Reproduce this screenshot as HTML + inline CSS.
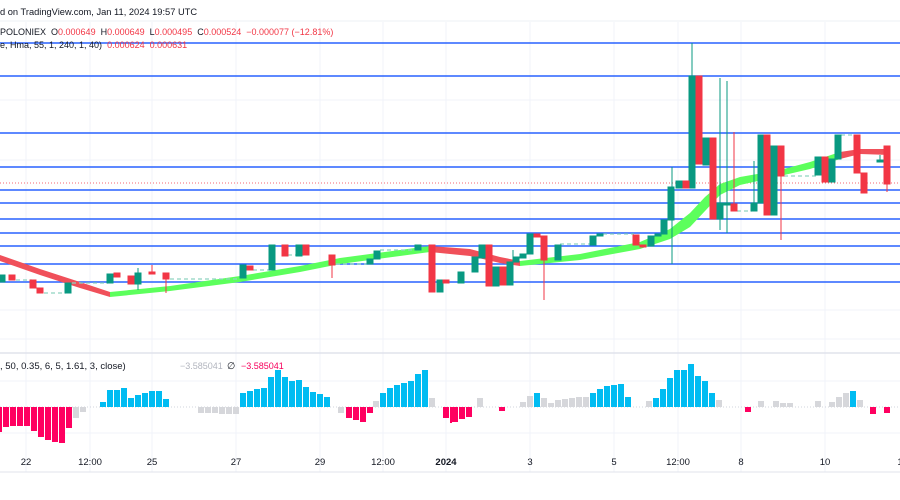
<!DOCTYPE html>
<html><head><meta charset="utf-8"><style>
body{margin:0;background:#fff;width:900px;height:500px;overflow:hidden}
svg{display:block}
text{font-family:"Liberation Sans",sans-serif}
</style></head><body>
<svg width="900" height="500" viewBox="0 0 900 500">
<rect width="900" height="500" fill="#fff"/>
<g stroke="#f0f3fa" stroke-width="1">
<line x1="26" y1="22" x2="26" y2="472"/><line x1="90" y1="22" x2="90" y2="472"/><line x1="152" y1="22" x2="152" y2="472"/><line x1="236" y1="22" x2="236" y2="472"/><line x1="320" y1="22" x2="320" y2="472"/><line x1="383" y1="22" x2="383" y2="472"/><line x1="446" y1="22" x2="446" y2="472"/><line x1="530" y1="22" x2="530" y2="472"/><line x1="614" y1="22" x2="614" y2="472"/><line x1="678" y1="22" x2="678" y2="472"/><line x1="741" y1="22" x2="741" y2="472"/><line x1="825" y1="22" x2="825" y2="472"/>
<line x1="0" y1="100" x2="900" y2="100"/><line x1="0" y1="160" x2="900" y2="160"/><line x1="0" y1="310" x2="900" y2="310"/><line x1="0" y1="339" x2="900" y2="339"/>
<line x1="0" y1="381" x2="900" y2="381"/><line x1="0" y1="433" x2="900" y2="433"/>
</g>
<line x1="0" y1="21" x2="900" y2="21" stroke="#eef0f4"/>
<line x1="0" y1="353" x2="900" y2="353" stroke="#e0e3eb" stroke-width="1.5"/>
<line x1="0" y1="472" x2="900" y2="472" stroke="#e0e3eb"/>
<text x="0" y="15" font-size="9.3" fill="#131722">d on TradingView.com, Jan 11, 2024 19:57 UTC</text>
<text x="0" y="35" font-size="9" fill="#131722" xml:space="preserve">POLONIEX  O<tspan fill="#f23645">0.000649</tspan>  H<tspan fill="#f23645">0.000649</tspan>  L<tspan fill="#f23645">0.000495</tspan>  C<tspan fill="#f23645">0.000524  −0.000077 (−12.81%)</tspan></text>
<g stroke="#2962ff" stroke-width="1.6">
<line x1="0" y1="43" x2="900" y2="43"/><line x1="0" y1="76" x2="900" y2="76"/><line x1="0" y1="133" x2="900" y2="133"/><line x1="0" y1="167" x2="900" y2="167"/><line x1="0" y1="190" x2="900" y2="190"/><line x1="0" y1="203" x2="900" y2="203"/><line x1="0" y1="219" x2="900" y2="219"/><line x1="0" y1="233" x2="900" y2="233"/><line x1="0" y1="246" x2="900" y2="246"/><line x1="0" y1="264" x2="900" y2="264"/><line x1="0" y1="282" x2="900" y2="282"/>
</g>
<text x="0" y="48" font-size="9" fill="#131722" xml:space="preserve">e, Hma, 55, 1, 240, 1, 40)  <tspan fill="#f23645">0.000624  0.000631</tspan></text>
<line x1="0" y1="183" x2="900" y2="183" stroke="#f23645" stroke-width="0.8" stroke-dasharray="1,2"/>
<path d="M0 261 L40 275 L80 288 L110 297 L110 292 L80 282 L40 269 L0 255Z" fill="#f0505a"/>
<path d="M110 297 L170 291 L240 282 L300 272 L340 264 L400 256 L430 252 L430 246 L400 250 L340 258 L300 266 L240 276 L170 286 L110 292Z" fill="#5cff5c"/>
<path d="M430 252 L470 256 L500 263 L520 266 L520 261 L500 257 L470 249 L430 246Z" fill="#f0505a"/>
<path d="M520 266 L580 260 L640 249 L670 239 L690 227 L705 211 L720 195 L740 185 L780 176 L810 169 L840 159 L840 152 L810 162 L780 170 L740 177 L720 184 L705 197 L690 213 L670 229 L640 242 L580 254 L520 261Z" fill="#5cff5c"/>
<path d="M840 159 L860 154 L890 155 L890 149 L860 149 L840 152Z" fill="#f0505a"/>
<g stroke="#8fd3c1" stroke-width="1.2" stroke-dasharray="4,3">
<line x1="16" y1="280" x2="32" y2="280"/><line x1="44" y1="293" x2="66" y2="293"/><line x1="72" y1="283" x2="108" y2="283"/><line x1="170" y1="279" x2="240" y2="279"/><line x1="253" y1="270" x2="270" y2="270"/><line x1="288" y1="255" x2="304" y2="255"/><line x1="336" y1="264" x2="368" y2="264"/><line x1="380" y1="250" x2="416" y2="250"/><line x1="560" y1="244" x2="590" y2="244"/><line x1="603" y1="234" x2="634" y2="234"/><line x1="737" y1="211" x2="752" y2="211"/><line x1="784" y1="176" x2="816" y2="176"/><line x1="841" y1="135" x2="855" y2="135"/>
</g>
<g fill="#089981" stroke="#089981" stroke-width="1">
<rect x="0" y="275" width="5" height="7"/><rect x="65" y="283" width="6" height="10"/><rect x="107" y="274" width="6" height="9"/><rect x="135" y="273" width="6" height="11"/><rect x="240" y="265" width="6" height="13"/><rect x="269" y="245" width="6" height="25"/><rect x="296" y="245" width="6" height="11"/><rect x="367" y="259" width="6" height="5"/><rect x="374" y="251" width="6" height="8"/><rect x="415" y="245" width="6" height="5"/><rect x="437" y="280" width="6" height="12"/><rect x="458" y="272" width="6" height="11"/><rect x="472" y="257" width="6" height="15"/><rect x="479" y="245" width="6" height="13"/><rect x="493" y="267" width="6" height="19"/><rect x="507" y="262" width="6" height="23"/><rect x="513" y="257" width="6" height="5"/><rect x="520" y="254" width="6" height="4"/><rect x="527" y="234" width="6" height="20"/><rect x="555" y="245" width="6" height="15"/><rect x="590" y="236" width="6" height="9"/><rect x="597" y="234" width="6" height="2"/><rect x="648" y="236" width="6" height="10"/><rect x="655" y="234" width="6" height="2"/><rect x="661" y="220" width="6" height="14"/><rect x="668" y="187" width="6" height="33"/><rect x="676" y="181" width="6" height="7"/><rect x="689" y="76" width="6" height="112"/><rect x="703" y="138" width="6" height="27"/><rect x="717" y="203" width="6" height="16"/><rect x="724" y="203" width="6" height="2"/><rect x="751" y="203" width="6" height="8"/><rect x="758" y="135" width="6" height="68"/><rect x="771" y="146" width="6" height="69"/><rect x="815" y="157" width="6" height="18"/><rect x="829" y="159" width="6" height="23"/><rect x="835" y="135" width="6" height="24"/><rect x="877" y="160" width="6" height="2"/>
<line x1="672" y1="167" x2="672" y2="264"/><line x1="692" y1="43" x2="692" y2="76"/><line x1="720" y1="78" x2="720" y2="230"/><line x1="727" y1="81" x2="727" y2="233"/><line x1="754" y1="161" x2="754" y2="203"/><line x1="513" y1="250" x2="513" y2="262"/><line x1="880" y1="155" x2="880" y2="161"/><line x1="138" y1="268" x2="138" y2="290"/>
</g>
<g fill="#f23645" stroke="#f23645" stroke-width="1">
<rect x="9" y="275" width="6" height="5"/><rect x="30" y="280" width="6" height="8"/><rect x="37" y="288" width="6" height="5"/><rect x="114" y="273" width="6" height="4"/><rect x="128" y="276" width="6" height="8"/><rect x="149" y="272" width="6" height="2"/><rect x="163" y="273" width="6" height="6"/><rect x="247" y="266" width="6" height="4"/><rect x="282" y="245" width="6" height="11"/><rect x="303" y="245" width="6" height="10"/><rect x="329" y="255" width="6" height="10"/><rect x="429" y="245" width="6" height="47"/><rect x="443" y="280" width="6" height="3"/><rect x="486" y="245" width="6" height="41"/><rect x="500" y="267" width="6" height="18"/><rect x="534" y="234" width="6" height="3"/><rect x="541" y="236" width="6" height="24"/><rect x="633" y="235" width="6" height="10"/><rect x="640" y="245" width="6" height="2"/><rect x="683" y="181" width="6" height="7"/><rect x="696" y="76" width="6" height="88"/><rect x="710" y="138" width="6" height="81"/><rect x="731" y="204" width="6" height="7"/><rect x="764" y="135" width="6" height="80"/><rect x="778" y="146" width="6" height="30"/><rect x="822" y="157" width="6" height="25"/><rect x="854" y="135" width="6" height="38"/><rect x="861" y="173" width="6" height="20"/><rect x="884" y="146" width="6" height="38"/>
<line x1="152" y1="265" x2="152" y2="273"/><line x1="166" y1="279" x2="166" y2="293"/><line x1="332" y1="265" x2="332" y2="278"/><line x1="734" y1="132" x2="734" y2="204"/><line x1="781" y1="176" x2="781" y2="240"/><line x1="544" y1="260" x2="544" y2="300"/><line x1="887" y1="184" x2="887" y2="192"/>
</g>
<text x="0" y="369" font-size="9.5" fill="#131722">, 50, 0.35, 6, 5, 1.61, 3, close)</text>
<text x="180" y="369" font-size="9" fill="#b2b5be">−3.585041</text>
<text x="227" y="369" font-size="9.5" fill="#131722">∅</text>
<text x="241" y="369" font-size="9" fill="#f7005c">−3.585041</text>
<line x1="0" y1="407" x2="900" y2="407" stroke="#d1d4dc" stroke-dasharray="1,2"/>
<g fill="#ff0060">
<rect x="0" y="407" width="2" height="25"/><rect x="3" y="407" width="6" height="20"/><rect x="10" y="407" width="6" height="19"/><rect x="17" y="407" width="6" height="19"/><rect x="24" y="407" width="6" height="19"/><rect x="31" y="407" width="6" height="24"/><rect x="38" y="407" width="6" height="30"/><rect x="45" y="407" width="6" height="33"/><rect x="52" y="407" width="6" height="35"/><rect x="59" y="407" width="6" height="36"/><rect x="66" y="407" width="6" height="21"/>
<rect x="346" y="407" width="6" height="11"/><rect x="353" y="407" width="6" height="13"/><rect x="360" y="407" width="6" height="15"/><rect x="367" y="407" width="6" height="6"/><rect x="443" y="407" width="6" height="11"/><rect x="450" y="407" width="2" height="16"/><rect x="452" y="407" width="6" height="15"/><rect x="459" y="407" width="6" height="12"/><rect x="466" y="407" width="6" height="10"/><rect x="499" y="407" width="6" height="4"/><rect x="745" y="407" width="6" height="5"/><rect x="870" y="407" width="6" height="7"/><rect x="884" y="407" width="6" height="6"/>
</g>
<g fill="#d6d7db">
<rect x="73" y="407" width="6" height="11"/><rect x="80" y="407" width="6" height="5"/><rect x="198" y="407" width="6" height="6"/><rect x="205" y="407" width="6" height="6"/><rect x="212" y="407" width="6" height="6"/><rect x="219" y="407" width="6" height="7"/><rect x="226" y="407" width="6" height="7"/><rect x="233" y="407" width="6" height="7"/><rect x="338" y="407" width="6" height="6"/>
<rect x="373" y="401" width="6" height="6"/><rect x="429" y="398" width="6" height="9"/><rect x="477" y="398" width="6" height="9"/><rect x="520" y="402" width="6" height="5"/><rect x="527" y="396" width="6" height="11"/><rect x="541" y="398" width="6" height="9"/><rect x="548" y="403" width="6" height="4"/><rect x="555" y="400" width="6" height="7"/><rect x="562" y="399" width="6" height="8"/><rect x="569" y="398" width="6" height="9"/><rect x="576" y="397" width="6" height="10"/><rect x="583" y="397" width="6" height="10"/><rect x="646" y="401" width="6" height="6"/><rect x="716" y="400" width="6" height="7"/><rect x="758" y="401" width="6" height="6"/><rect x="773" y="401" width="6" height="6"/><rect x="780" y="403" width="6" height="4"/><rect x="787" y="403" width="6" height="4"/><rect x="815" y="401" width="6" height="6"/><rect x="829" y="402" width="6" height="5"/><rect x="836" y="397" width="6" height="10"/><rect x="843" y="393" width="6" height="14"/><rect x="857" y="400" width="6" height="7"/>
</g>
<g fill="#00bcf2">
<rect x="100" y="402" width="6" height="5"/><rect x="107" y="390" width="6" height="17"/><rect x="114" y="390" width="6" height="17"/><rect x="121" y="388" width="6" height="19"/><rect x="128" y="398" width="6" height="9"/><rect x="135" y="395" width="6" height="12"/><rect x="142" y="393" width="6" height="14"/><rect x="149" y="391" width="6" height="16"/><rect x="156" y="391" width="6" height="16"/><rect x="163" y="399" width="6" height="8"/>
<rect x="240" y="393" width="6" height="14"/><rect x="247" y="391" width="6" height="16"/><rect x="254" y="389" width="6" height="18"/><rect x="261" y="388" width="6" height="19"/><rect x="268" y="377" width="6" height="30"/><rect x="275" y="370" width="6" height="37"/><rect x="282" y="377" width="6" height="30"/><rect x="289" y="381" width="6" height="26"/><rect x="296" y="380" width="6" height="27"/><rect x="303" y="387" width="6" height="20"/><rect x="310" y="392" width="6" height="15"/><rect x="317" y="394" width="6" height="13"/><rect x="324" y="397" width="6" height="10"/>
<rect x="380" y="393" width="6" height="14"/><rect x="387" y="388" width="6" height="19"/><rect x="394" y="385" width="6" height="22"/><rect x="401" y="383" width="6" height="24"/><rect x="408" y="381" width="6" height="26"/><rect x="415" y="374" width="6" height="33"/><rect x="422" y="370" width="6" height="37"/>
<rect x="534" y="393" width="6" height="14"/><rect x="590" y="393" width="6" height="14"/><rect x="597" y="389" width="6" height="18"/><rect x="604" y="386" width="6" height="21"/><rect x="611" y="385" width="6" height="22"/><rect x="618" y="384" width="6" height="23"/><rect x="625" y="397" width="6" height="10"/>
<rect x="653" y="398" width="6" height="9"/><rect x="660" y="389" width="6" height="18"/><rect x="667" y="378" width="6" height="29"/><rect x="674" y="370" width="6" height="37"/><rect x="681" y="370" width="6" height="37"/><rect x="688" y="364" width="6" height="43"/><rect x="695" y="376" width="6" height="31"/><rect x="702" y="381" width="6" height="26"/><rect x="709" y="393" width="6" height="14"/><rect x="850" y="391" width="6" height="16"/>
</g>
<g font-size="9.5" fill="#131722" text-anchor="middle">
<text x="26" y="465">22</text><text x="90" y="465">12:00</text><text x="152" y="465">25</text><text x="236" y="465">27</text><text x="320" y="465">29</text><text x="383" y="465">12:00</text><text x="446" y="465" font-weight="bold">2024</text><text x="530" y="465">3</text><text x="614" y="465">5</text><text x="678" y="465">12:00</text><text x="741" y="465">8</text><text x="825" y="465">10</text><text x="900" y="465">1</text>
</g>
</svg>
</body></html>
